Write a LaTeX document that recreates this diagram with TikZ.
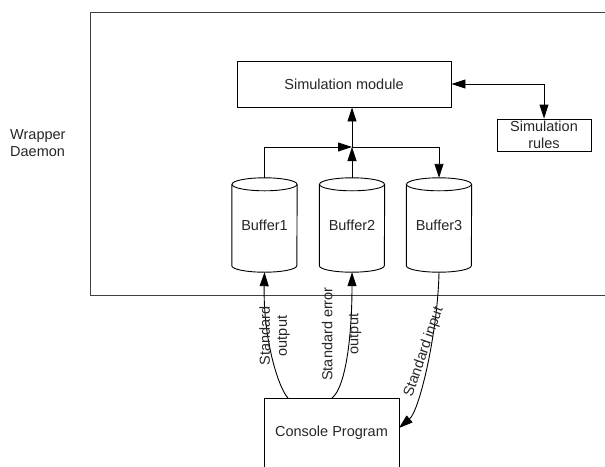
\documentclass[tikz,border=0pt]{standalone}
\usepackage{fontspec}
\setmainfont{Liberation Sans}
\usetikzlibrary{arrows.meta,calc}
\newcommand\drawcyl[1]{%
  \draw[line width=0.9pt] ($(#1.north west)+(0,-6.5)$) -- ($(#1.south west)+(0,6.5)$)
    arc[start angle=180,end angle=360,x radius=32.5,y radius=6.5]
    -- ($(#1.north east)+(0,-6.5)$);
  \draw[line width=0.9pt] ($(#1.north)+(0,-6.5)$) ellipse[x radius=32.5,y radius=6.5];
}
\begin{document}
\begin{tikzpicture}[x=1pt,y=1pt,
  every node/.style={font=\fontsize{14.5}{17}\selectfont, text=black!85, inner sep=0pt},
  box/.style={draw, line width=0.9pt, rectangle},
  bufnode/.style={minimum width=65pt, minimum height=94pt},
  conn/.style={line width=0.9pt},
  tip/.tip={Triangle[length=14pt,width=9pt]},
  arr/.style={-tip},
  darr/.style={tip-tip}
]
\useasboundingbox (0,0) rectangle (605,-466);
% wrapper frame
\node[draw, line width=1.2pt, draw=black!75, minimum width=530pt, minimum height=283pt, anchor=north west] (wrapper) at (90,-12) {};
\node[anchor=west, align=left] (wlabel) at (10,-143.5) {Wrapper\\Daemon};
% simulation module and rules
\node[box, minimum width=214pt, minimum height=46pt] (sim) at (344,-84) {Simulation module};
\node[box, minimum width=94pt, minimum height=32pt, align=center] (rules) at (544,-135) {Simulation\\rules};
% buffers
\node[bufnode] (b1) at (264.5,-225) {Buffer1};
\node[bufnode] (b2) at (352,-225) {Buffer2};
\node[bufnode] (b3) at (439,-225) {Buffer3};
\drawcyl{b1}\drawcyl{b2}\drawcyl{b3}
% console
\node[box, minimum width=135pt, minimum height=70pt] (console) at (331.5,-433) {Console Program};
% connectors
\coordinate (J) at (352,-147);
\draw[conn,arr] (b1.north) |- (J);
\draw[conn,arr] (b2.north) -- (J);
\draw[conn,arr] (J) -- (J |- sim.south);
\draw[conn,arr] (J) -| (b3.north);
\draw[conn,darr] (sim.east) -| (rules.north);
\coordinate (so) at (288,-398);
\coordinate (se) at (332,-398);
\coordinate (si) at (399,-428);
\draw[conn,arr] (so) .. controls (279,-389) and (263,-340) .. (b1.south);
\draw[conn,arr] (se) .. controls (345,-388) and (352,-340) .. (b2.south);
\draw[conn,arr] (b3.south) .. controls (438,-330) and (420,-410) .. (si);
% labels
\node[rotate=90, align=center] (l1) at (274.5,-336) {Standard\\output};
\node[rotate=90, align=center] (l2) at (341.5,-334) {Standard error\\[9pt]output};
\node[rotate=71] (l3) at (424,-352) {Standard input};
\end{tikzpicture}
\end{document}
